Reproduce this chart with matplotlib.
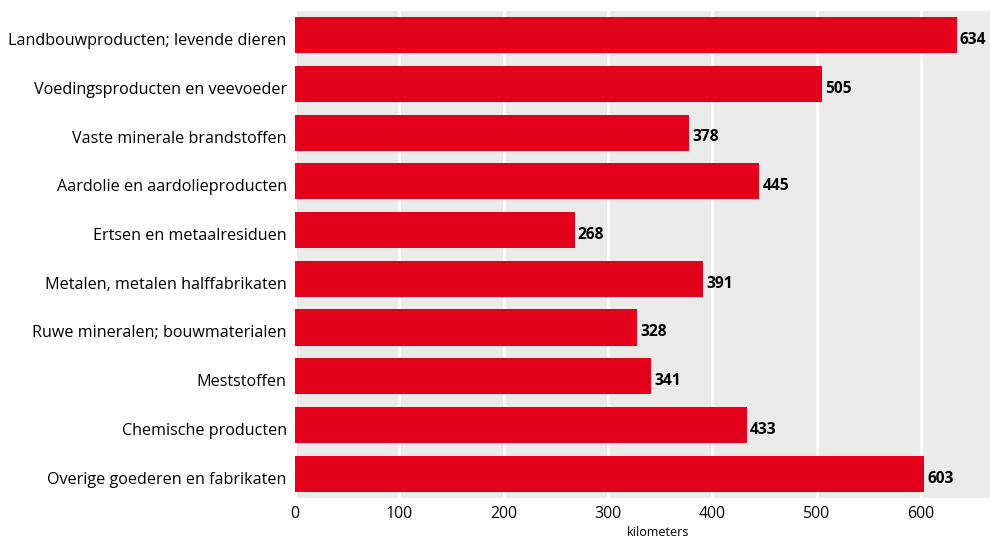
import matplotlib
matplotlib.use('Agg')
import matplotlib.pyplot as plt
import matplotlib.transforms as mtransforms

categories = [
    'Landbouwproducten; levende dieren',
    'Voedingsproducten en veevoeder',
    'Vaste minerale brandstoffen',
    'Aardolie en aardolieproducten',
    'Ertsen en metaalresiduen',
    'Metalen, metalen halffabrikaten',
    'Ruwe mineralen; bouwmaterialen',
    'Meststoffen',
    'Chemische producten',
    'Overige goederen en fabrikaten',
]
values = [634, 505, 378, 445, 268, 391, 328, 341, 433, 603]
xticks = [0, 100, 200, 300, 400, 500, 600]

RED = '#e2001a'
GREY = '#ebebeb'

plt.rcParams['font.family'] = ['Open Sans', 'DejaVu Sans']

fig = plt.figure(figsize=(9.9, 5.39), dpi=100, facecolor='white')
ax = fig.add_axes([0.298, 0.076, 0.702, 0.904])
ax.set_facecolor(GREY)

y = list(range(len(categories)))
ax.barh(y, values, height=0.74, color=RED, zorder=3)

# bold value labels just past each bar end (sit a bit low, like the original)
for yi, v in zip(y, values):
    ax.text(v + 3, yi + 0.1, str(v), ha='left', va='center', fontsize=11.2,
            fontweight='bold', color='black', zorder=4, clip_on=False)

ax.set_xlim(0, 666)
ax.set_ylim(len(categories) - 0.5, -0.5)
ax.set_yticks(y)
ax.set_yticklabels(categories, fontsize=11.6)
ax.set_xticks(xticks)
ax.set_xticklabels([str(t) for t in xticks], fontsize=11.4)
ax.tick_params(length=0, pad=6)
ax.grid(axis='x', color='white', linewidth=2, zorder=1)
ax.set_axisbelow(True)
for s in ax.spines.values():
    s.set_visible(False)

shift = mtransforms.ScaledTranslation(0, -4 / 100, fig.dpi_scale_trans)
for lab in ax.get_yticklabels():
    lab.set_transform(lab.get_transform() + shift)

fig.text(658 / 990, 1 - 533 / 539, 'kilometers', ha='center', va='center',
         fontsize=9)

fig.savefig('out.png', dpi=100, facecolor='white')
